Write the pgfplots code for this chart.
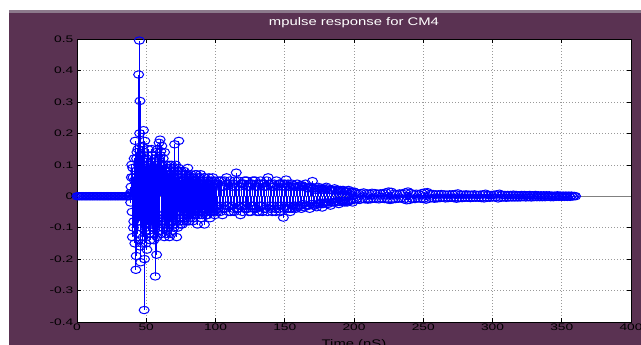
\documentclass[border=0pt]{standalone}
\usepackage{pgfplots}
\pgfplotsset{compat=1.18}
\usepackage{fontspec}
\setmainfont{Liberation Sans}
\definecolor{figbg}{RGB}{90,50,82}
\definecolor{figedge}{RGB}{140,122,140}
\begin{document}
\begin{tikzpicture}
\fill[white] (-77pt,-23pt) rectangle (564pt,322pt);
\fill[figbg] (-68pt,-23pt) rectangle (564pt,312pt);
\fill[figedge] (-68pt,309pt) rectangle (564pt,312pt);
\begin{axis}[
  at={(0,0)}, anchor=south west,
  scale only axis, width=554pt, height=283pt,
  xmin=0, xmax=400, ymin=-0.4, ymax=0.5,
  xtick={0,50,...,400}, ytick={-0.4,-0.3,...,0.5},
  axis background/.style={fill=white},
  axis line style={black, line width=0.5pt},
  tick align=inside, major tick length=4pt,
  tick style={black, line width=0.5pt},
  grid=major,
  major grid style={gray!80, line width=0.5pt, dash pattern=on 1pt off 2pt},
  /pgf/number format/assume math mode=true,
  ticklabel style={font=\fontsize{9.5}{10}\selectfont, color=black, xscale=1.45},
  yticklabel style={xshift=1pt, /pgf/number format/.cd, fixed, precision=1},
  xticklabel style={yshift=2pt},
  title={\textcolor{white}{mpulse response for CM4}},
  title style={font=\fontsize{11}{12}\selectfont, xscale=1.35, at={(axis description cs:0.5,1)}, anchor=base, yshift=8pt},
  xlabel={Time (nS)},
  xlabel style={font=\fontsize{11}{12}\selectfont, xscale=1.35, color=black, at={(axis description cs:0.5,0)}, anchor=north, inner sep=0pt, yshift=-17pt},
  clip=false,
  stemstyle/.style={ycomb, blue, line width=1.1pt, mark=o, mark size=3.7pt, mark options={blue, line width=1pt, xscale=1.35}},
]
\addplot[gray, line width=0.6pt, forget plot] coordinates {(0,0) (400,0)};
\addplot[stemstyle] coordinates {
(0,0) (1,0) (2,0) (3,0) (4,0) (5,0) (6,0) (7,0) (8,0) (9,0)
(10,0) (11,0) (12,0) (13,0) (14,0) (15,0) (16,0) (17,0) (18,0) (19,0)
(20,0) (21,0) (22,0) (23,0) (24,0) (25,0) (26,0) (27,0) (28,0) (29,0)
(30,0) (31,0) (32,0) (33,0) (34,0) (35,0) (36,0) (37,0) (38,0)
(38.5,0.01) (39,0.03) (39.5,0.10) (40,-0.13) (40.5,0.06) (41,-0.08) (41.5,0.05)
(42,0.176) (42.5,-0.234) (43,0.12) (43.5,-0.06) (44,0.15) (44.5,0.387) (45,0.495)
(45.5,0.303) (46,-0.21) (46.5,0.09) (47,-0.15) (47.5,0.12) (48,0.21) (48.5,-0.362)
(49,0.176) (49.5,-0.11) (50,0.08) (50.5,-0.17) (51,0.13) (51.5,-0.05) (52,0.10)
(52.5,-0.12) (53,0.07) (53.5,-0.09) (54,0.15) (54.5,-0.06) (55,0.11) (55.5,-0.14)
(56,0.05) (56.5,-0.255) (57,0.14) (57.5,-0.186) (58,0.09) (58.5,-0.10) (59,0.12)
(59.5,-0.07) (60,0.18) (60.5,0.143) (61,-0.12) (61.5,0.10) (62,-0.08) (62.5,0.06)
(63,-0.13) (63.5,0.08) (64,-0.05) (64.5,0.09) (65,-0.11) (65.5,0.04) (66,-0.07)
(66.5,0.10) (67,-0.09) (67.5,0.05) (68,-0.12) (68.5,0.07) (69,-0.06) (69.5,0.09)
(70,-0.10) (70.5,0.165) (71,-0.04) (71.5,0.06) (72,-0.13) (72.5,0.08) (73,-0.05)
(73.5,0.176) (74,-0.08) (74.5,0.05) (75,-0.07) (75.5,0.06) (76,-0.09) (76.5,0.04)
(77,-0.06) (77.5,0.08) (78,-0.05) (78.5,0.07) (79,-0.08) (79.5,0.04) (80,0.09)
(80.5,-0.06) (81,0.05) (81.5,-0.07) (82,0.04) (82.5,-0.05) (83,0.06) (83.5,-0.08)
(84,0.03) (84.5,0.05) (85,-0.06) (85.5,0.07) (86,-0.04) (86.5,0.05) (87,-0.09)
(87.5,0.04) (88,-0.03) (88.5,0.06) (89,-0.05) (89.5,0.04) (90,-0.07) (90.5,0.05)
(91,-0.04) (91.5,0.06) (92,-0.09) (92.5,0.03) (93,-0.05) (93.5,0.04) (94,-0.06)
(94.5,0.05) (95,-0.03) (95.5,0.04) (96,-0.07) (96.5,0.03) (97,0.05) (97.5,-0.04)
(98,0.06) (98.5,-0.05) (99,0.04) (99.5,-0.06) (100,0.03)
(101,-0.05) (102,0.04) (103,-0.03) (104,0.05) (105,-0.06) (106,0.03) (107,-0.04)
(108,0.06) (109,-0.03) (110,0.04) (111,-0.05) (112,0.03) (113,-0.04) (114,0.05)
(115,0.075) (116,-0.04) (117,0.03) (118,-0.06) (119,0.04) (120,-0.03) (121,0.05)
(122,-0.04) (123,0.03) (124,-0.05) (125,0.04) (126,-0.03) (127,0.05) (128,-0.04)
(129,0.03) (130,-0.05) (131,0.04) (132,-0.03) (133,0.04) (134,-0.05) (135,0.03)
(136,-0.04) (137,0.05) (138,0.06) (139,-0.03) (140,0.04) (141,-0.05) (142,0.03)
(143,-0.04) (144,0.05) (145,-0.03) (146,0.04) (147,-0.05) (148,0.03) (149,-0.068)
(150,0.04) (151,0.053) (152,-0.04) (153,0.03) (154,-0.05) (155,0.04) (156,-0.03)
(157,0.03) (158,-0.04) (159,0.04) (160,-0.03) (161,0.035) (162,-0.04) (163,0.03)
(164,-0.035) (165,0.04) (166,-0.03) (167,0.025) (168,-0.04) (169,0.03) (170,0.048)
(171,-0.03) (172,0.025) (173,-0.035) (174,0.03) (175,-0.025) (176,0.02) (177,-0.036)
(178,0.025) (179,-0.02) (180,0.03) (181,-0.025) (182,0.02) (183,-0.03) (184,0.02)
(185,-0.02) (186,0.025) (187,-0.02) (188,0.015) (189,-0.025) (190,0.02) (191,-0.015)
(192,0.02) (193,-0.02) (194,0.015) (195,-0.02) (196,0.02) (197,-0.015) (198,0.015)
(199,-0.02) (200,0.015)
(201,0.012) (202,-0.01) (203,0.008) (204,-0.012) (205,0.01) (206,-0.008) (207,0.012)
(208,-0.01) (209,0.009) (210,-0.011) (211,0.008) (212,-0.01) (213,0.011) (214,-0.008)
(215,0.01) (216,-0.009) (217,0.008) (218,-0.01) (219,0.009) (220,-0.008) (221,0.01)
(222,-0.009) (223,0.012) (224,-0.01) (225,0.015) (226,-0.012) (227,0.014) (228,-0.01)
(229,0.008) (230,-0.009) (231,0.007) (232,-0.008) (233,0.009) (234,-0.007) (235,0.008)
(236,-0.01) (237,0.012) (238,-0.013) (239,0.015) (240,-0.012) (241,0.01) (242,-0.008)
(243,0.007) (244,-0.009) (245,0.008) (246,-0.007) (247,0.006) (248,-0.008) (249,0.01)
(250,-0.009) (251,0.012) (252,-0.011) (253,0.013) (254,-0.008) (255,0.007) (256,-0.006)
(257,0.007) (258,-0.008) (259,0.006) (260,-0.007) (261,0.006) (262,-0.006) (263,0.007)
(264,-0.005) (265,0.006) (266,-0.007) (267,0.005) (268,-0.006) (269,0.006) (270,-0.005)
(271,0.006) (272,-0.006) (273,0.007) (274,-0.008) (275,0.009) (276,-0.006) (277,0.005)
(278,-0.006) (279,0.005) (280,-0.005) (281,0.006) (282,-0.005) (283,0.005) (284,-0.006)
(285,0.005) (286,-0.005) (287,0.006) (288,-0.005) (289,0.004) (290,-0.005) (291,0.005)
(292,-0.006) (293,0.006) (294,-0.007) (295,0.008) (296,-0.005) (297,0.004) (298,-0.005)
(299,0.004) (300,-0.004) (301,0.005) (302,-0.004) (303,0.006) (304,-0.007) (305,0.008)
(306,-0.005) (307,0.004) (308,-0.004) (309,0.004) (310,-0.005) (311,0.004) (312,-0.004)
(313,0.004) (314,-0.004) (315,0.005) (316,-0.004) (317,0.004) (318,-0.004) (319,0.003)
(320,-0.004) (321,0.004) (322,-0.003) (323,0.004) (324,-0.004) (325,0.003) (326,-0.003)
(327,0.004) (328,-0.004) (329,0.003) (330,-0.003) (331,0.004) (332,-0.003) (333,0.003)
(334,-0.003) (335,0.003) (336,-0.003) (337,0.003) (338,-0.003) (339,0.003) (340,-0.002)
(341,0.003) (342,-0.003) (343,0.002) (344,-0.003) (345,0.002) (346,-0.002) (347,0.003)
(348,-0.002) (349,0.002) (350,-0.002) (351,0.002) (352,-0.002) (353,0.002) (354,-0.002)
(355,0.002) (356,-0.002) (357,0.002) (358,-0.001) (359,0.001) (360,0)
};
\addplot[stemstyle] coordinates {
(38.25,0.005) (38.75,-0.02) (39.25,0.06) (39.75,-0.05) (40.25,0.09) (40.75,-0.1)
(41.25,0.12) (41.75,-0.15) (42.25,0.08) (42.75,-0.19) (43.25,0.14) (43.75,-0.12)
(44.25,0.1) (44.75,-0.08) (45.25,0.2) (45.75,-0.16) (46.25,0.13) (46.75,-0.1)
(47.25,0.16) (47.75,-0.13) (48.25,0.11) (48.75,-0.2) (49.25,0.09) (49.75,-0.15)
(50.25,0.12) (50.75,-0.09) (51.25,0.15) (51.75,-0.11) (52.25,0.08) (52.75,-0.14)
(53.25,0.11) (53.75,-0.07) (54.25,0.13) (54.75,-0.1) (55.25,0.09) (55.75,-0.12)
(56.25,0.12) (56.75,-0.08) (57.25,0.1) (57.75,-0.13) (58.25,0.15) (58.75,-0.09)
(59.25,0.17) (59.75,-0.11) (60.25,0.13) (60.75,-0.08) (61.25,0.16) (61.75,-0.1)
(62.25,0.12) (62.75,-0.07) (63.25,0.14) (63.75,-0.09) (64.25,0.1) (64.75,-0.12)
(65.25,0.08) (65.75,-0.1) (66.25,0.07) (66.75,-0.13) (67.25,0.09) (67.75,-0.08)
(68.25,0.1) (68.75,-0.11) (69.25,0.06) (69.75,-0.09) (70.25,0.08) (70.75,-0.07)
(71.25,0.1) (71.75,-0.06) (72.25,0.07) (72.75,-0.1) (73.25,0.09) (73.75,-0.07)
(74.25,0.06) (74.75,-0.09) (75.25,0.08) (75.75,-0.05) (76.25,0.07) (76.75,-0.08)
(77.25,0.05) (77.75,-0.07) (78.25,0.06) (78.75,-0.05) (79.25,0.07) (79.75,-0.06)
(80.25,0.05) (80.75,-0.08) (81.25,0.06) (81.75,-0.05) (82.25,0.07) (82.75,-0.06)
(83.25,0.05) (83.75,-0.07) (84.25,0.06) (84.75,-0.05) (85.25,0.04) (85.75,-0.06)
(86.25,0.07) (86.75,-0.05) (87.25,0.06) (87.75,-0.04) (88.25,0.05) (88.75,-0.06)
(89.25,0.07) (89.75,-0.05) (90.25,0.04) (90.75,-0.06) (91.25,0.05) (91.75,-0.04)
(92.25,0.06) (92.75,-0.05) (93.25,0.04) (93.75,-0.06) (94.25,0.05) (94.75,-0.04)
(95.25,0.06) (95.75,-0.05) (96.25,0.04) (96.75,-0.05) (97.25,0.03) (97.75,-0.05)
(98.25,0.04) (98.75,-0.04) (99.25,0.05) (99.75,-0.03)
(100.5,0.04) (101.5,-0.04) (102.5,0.05) (103.5,-0.05) (104.5,0.03) (105.5,-0.04)
(106.5,0.05) (107.5,-0.03) (108.5,0.04) (109.5,-0.05) (110.5,0.05) (111.5,-0.03)
(112.5,0.04) (113.5,-0.05) (114.5,0.03) (115.5,-0.04) (116.5,0.05) (117.5,-0.03)
(118.5,0.04) (119.5,-0.05) (120.5,0.04) (121.5,-0.03) (122.5,0.05) (123.5,-0.04)
(124.5,0.03) (125.5,-0.05) (126.5,0.04) (127.5,-0.03) (128.5,0.05) (129.5,-0.04)
(130.5,0.03) (131.5,-0.05) (132.5,0.05) (133.5,-0.03) (134.5,0.04) (135.5,-0.04)
(136.5,0.03) (137.5,-0.05) (138.5,0.04) (139.5,-0.04) (140.5,0.03) (141.5,-0.03)
(142.5,0.04) (143.5,-0.05) (144.5,0.03) (145.5,-0.04) (146.5,0.04) (147.5,-0.03)
(148.5,0.04) (149.5,-0.04) (150.5,0.03) (151.5,-0.03) (152.5,0.04) (153.5,-0.04)
(154.5,0.03) (155.5,-0.04) (156.5,0.035) (157.5,-0.03) (158.5,0.03) (159.5,-0.035)
(160.5,0.03) (161.5,-0.03) (162.5,0.035) (163.5,-0.025) (164.5,0.03) (165.5,-0.03)
(166.5,0.025) (167.5,-0.03) (168.5,0.03) (169.5,-0.025) (170.5,0.025) (171.5,-0.03)
(172.5,0.02) (173.5,-0.025) (174.5,0.025) (175.5,-0.02) (176.5,0.025) (177.5,-0.025)
(178.5,0.02) (179.5,-0.02) (180.5,0.025) (181.5,-0.02) (182.5,0.02) (183.5,-0.02)
(184.5,0.018) (185.5,-0.018) (186.5,0.02) (187.5,-0.015) (188.5,0.018) (189.5,-0.018)
(190.5,0.015) (191.5,-0.015) (192.5,0.018) (193.5,-0.015) (194.5,0.015) (195.5,-0.015)
(196.5,0.015) (197.5,-0.012) (198.5,0.012) (199.5,-0.012)
};
\end{axis}
\pgfresetboundingbox
\path[use as bounding box] (-77pt,-23pt) rectangle (564pt,322pt);
\end{tikzpicture}
\end{document}
